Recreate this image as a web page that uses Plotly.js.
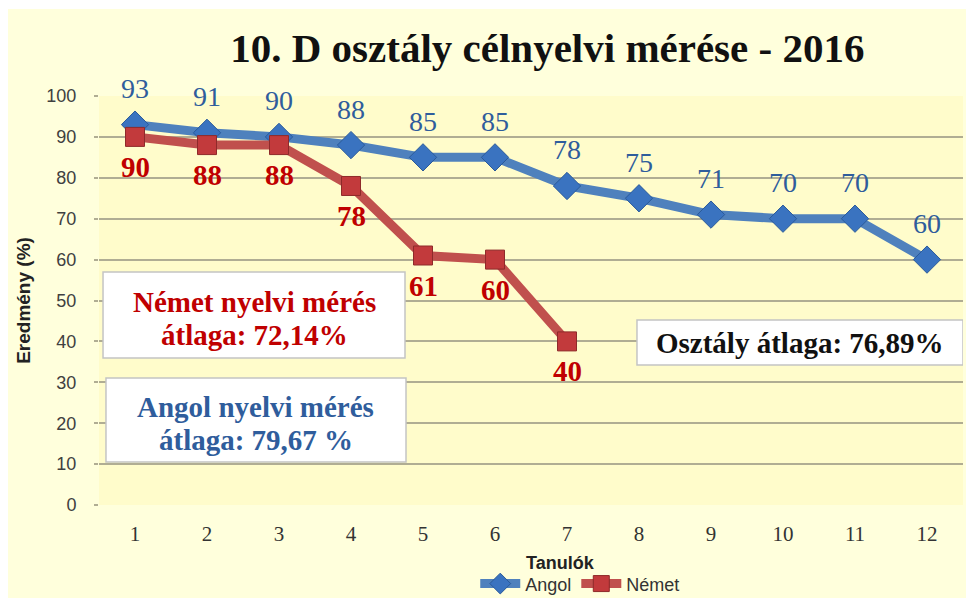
<!DOCTYPE html>
<html>
<head>
<meta charset="utf-8">
<script src="https://cdn.plot.ly/plotly-3.0.1.min.js"></script>
<style>
html,body{margin:0;padding:0;background:#ffffff;width:966px;height:598px;overflow:hidden;}
#chart{position:absolute;left:8px;top:9px;width:958px;height:589px;}
</style>
</head>
<body>
<div id="chart"></div>
<script>
const students = [1,2,3,4,5,6,7,8,9,10,11,12];
const angol = [93,91,90,88,85,85,78,75,71,70,70,60];
const nemetStudents = [1,2,3,4,5,6,7];
const nemet = [90,88,88,78,61,60,40];
const yTicks = [0,10,20,30,40,50,60,70,80,90,100];
const titleText = '10. D osztály célnyelvi mérése - 2016';
const nemetAvgLines = ['Német nyelvi mérés', 'átlaga: 72,14%'];
const angolAvgLines = ['Angol nyelvi mérés', 'átlaga: 79,67 %'];
const classAvgText = 'Osztály átlaga: 76,89%';

const BLUE_LINE = '#4F81BD', BLUE_TEXT = '#2F5D9C';
const RED_LINE = '#C0504D', RED_TEXT = '#C00000';

const traces = [
  {
    x: students, y: angol, name: 'Angol', type: 'scatter', mode: 'lines+markers',
    line: {color: BLUE_LINE, width: 9},
    marker: {symbol: 'diamond', size: 21, color: '#3A73C0', line: {color: '#2A5A9A', width: 1}},
    hoverinfo: 'x+y'
  },
  {
    x: nemetStudents, y: nemet, name: 'Német', type: 'scatter', mode: 'lines+markers',
    line: {color: RED_LINE, width: 9},
    marker: {symbol: 'square', size: 19, color: '#C23A3C', line: {color: '#8E2A2A', width: 1}},
    hoverinfo: 'x+y'
  }
];

const annotations = [];
students.forEach((s, i) => {
  annotations.push({x: s, y: angol[i], xref: 'x', yref: 'y', text: String(angol[i]),
    showarrow: false, yshift: 36,
    font: {family: 'Liberation Serif', size: 28, color: BLUE_TEXT}});
});
nemetStudents.forEach((s, i) => {
  annotations.push({x: s, y: nemet[i], xref: 'x', yref: 'y', text: '<b>' + nemet[i] + '</b>',
    showarrow: false, yshift: -30,
    font: {family: 'Liberation Serif', size: 29, color: RED_TEXT}});
});
const boxFont = (c) => ({family: 'Liberation Serif', size: 29, color: c});
annotations.push({x: 2.653, y: 49.63, xref: 'x', yref: 'y', text: '<b>' + nemetAvgLines[0] + '</b>', showarrow: false, font: boxFont(RED_TEXT)});
annotations.push({x: 2.653, y: 41.56, xref: 'x', yref: 'y', text: '<b>' + nemetAvgLines[1] + '</b>', showarrow: false, font: boxFont(RED_TEXT)});
annotations.push({x: 2.68, y: 23.96, xref: 'x', yref: 'y', text: '<b>' + angolAvgLines[0] + '</b>', showarrow: false, font: boxFont(BLUE_TEXT)});
annotations.push({x: 2.68, y: 15.89, xref: 'x', yref: 'y', text: '<b>' + angolAvgLines[1] + '</b>', showarrow: false, font: boxFont(BLUE_TEXT)});
annotations.push({x: 10.236, y: 39.61, xref: 'x', yref: 'y', text: '<b>' + classAvgText + '</b>', showarrow: false, font: boxFont('#111111')});
annotations.push({x: 0.5336, y: -0.1418, xref: 'paper', yref: 'paper', yanchor: 'middle', text: '<b>Tanulók</b>',
  showarrow: false, font: {family: 'Liberation Sans', size: 18, color: '#222222'}});

const boxStyle = {type: 'rect', xref: 'x', yref: 'y', fillcolor: '#ffffff', line: {color: '#C4C4C4', width: 1.5}, layer: 'above'};
const shapes = [
  Object.assign({x0: 0.556, x1: 4.75, y0: 35.94, y1: 56.97}, boxStyle),
  Object.assign({x0: 0.597, x1: 4.764, y0: 10.51, y1: 31.05}, boxStyle),
  Object.assign({x0: 7.972, x1: 12.5, y0: 34.23, y1: 45.23}, boxStyle)
];

const layout = {
  width: 958, height: 589,
  paper_bgcolor: '#FFFFDC', plot_bgcolor: '#FFFCCB',
  margin: {l: 91, r: 3, t: 87, b: 93},
  title: {text: '<b>' + titleText + '</b>', x: 0.563, xanchor: 'center', y: 0.934, yanchor: 'middle',
    font: {family: 'Liberation Serif', size: 41, color: '#111111'}},
  showlegend: true,
  legend: {orientation: 'h', xref: 'paper', x: 0.557, xanchor: 'center', yref: 'container', y: 0.024, yanchor: 'middle',
    bgcolor: 'rgba(0,0,0,0)', font: {family: 'Liberation Sans', size: 18, color: '#333333'},
    itemwidth: 40, tracegroupgap: 0},
  xaxis: {range: [0.5, 12.5], tickmode: 'array', tickvals: students, ticktext: students.map(String),
    showgrid: false, zeroline: false, showline: false, ticks: '',
    tickfont: {family: 'Liberation Serif', size: 21, color: '#333333'}, ticklabelstandoff: 14,
    fixedrange: true},
  yaxis: {range: [0, 100], tickmode: 'array', tickvals: yTicks, ticktext: yTicks.map(String),
    showgrid: true, gridcolor: '#B0AD93', gridwidth: 2, zeroline: false, showline: false,
    ticks: 'outside', ticklen: 4, tickcolor: '#B0AD93', tickwidth: 2,
    tickfont: {family: 'Liberation Sans', size: 18, color: '#404040'}, ticklabelstandoff: 14,
    title: {text: '<b>Eredmény (%)</b>', standoff: 10, font: {family: 'Liberation Sans', size: 19, color: '#222222'}},
    fixedrange: true},
  shapes: shapes,
  annotations: annotations
};

Plotly.newPlot('chart', traces, layout, {displayModeBar: false, staticPlot: true});
</script>
</body>
</html>
